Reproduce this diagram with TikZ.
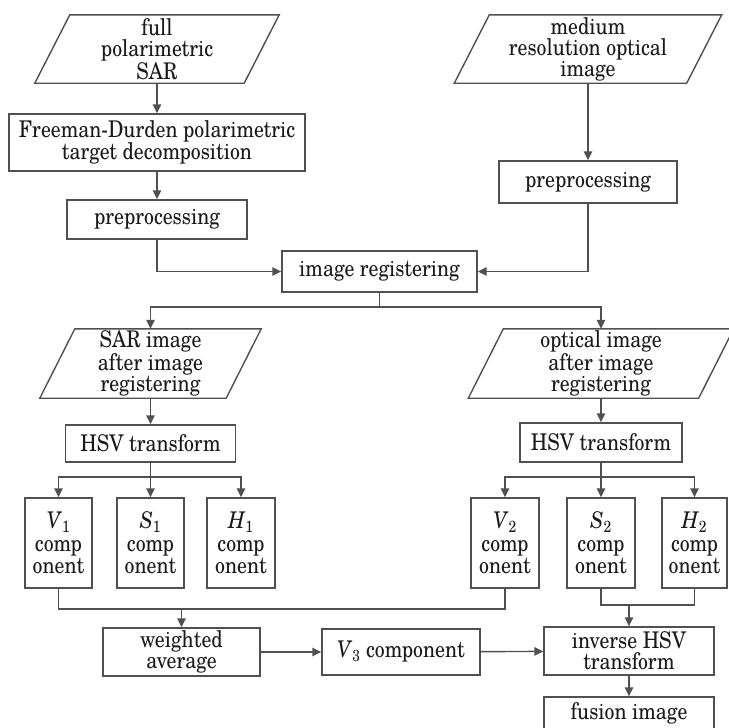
\documentclass[tikz,border=0pt]{standalone}
\usepackage{fontspec}
\setmainfont[FakeStretch=0.86]{TeX Gyre Schola}
\usetikzlibrary{arrows.meta,calc}
\definecolor{lc}{HTML}{505050}
\definecolor{tc}{HTML}{1A1A1A}
\begin{document}
\begin{tikzpicture}[x=1pt,y=-1pt,
  ln/.style={draw=lc, line width=1.4pt},
  box/.style={ln, inner sep=0pt, align=center, text=tc, font=\fontsize{23}{21}\selectfont},
  comp/.style={box, minimum height=90, font=\fontsize{23}{22.5}\selectfont},
  para/.style={inner sep=0pt, align=center, text=tc, font=\fontsize{23}{21}\selectfont},
  arr/.style={ln, -{Triangle[length=9pt,width=8.5pt]}}]
\useasboundingbox (0,0) rectangle (728,728);
% inputs
\node[para, minimum width=209, minimum height=68] (in1) at (157,49) {full\\polarimetric\\SAR};
\node[para, minimum width=232, minimum height=68] (in2) at (588,49) {medium\\resolution optical\\image};
\node[box, minimum width=296, minimum height=57] (fd) at (157,142.5) {Freeman-Durden polarimetric\\target decomposition};
\node[box, minimum width=180, minimum height=39] (pre1) at (157,219.5) {preprocessing};
\node[box, minimum width=178, minimum height=42] (pre2) at (588,182) {preprocessing};
\node[box, minimum width=195, minimum height=41] (reg) at (379.5,271.5) {image registering};
\coordinate (j1) at (379.5,307);
\node[para, minimum width=186, minimum height=69] (sar) at (150.5,363.5) {SAR image\\after image\\registering};
\node[para, minimum width=230, minimum height=69] (opt) at (601,363.5) {optical image\\after image\\registering};
\node[box, minimum width=170, minimum height=37] (hsv1) at (150.5,443.5) {HSV transform};
\node[box, minimum width=162, minimum height=39] (hsv2) at (601,442.5) {HSV transform};
\coordinate (j2) at (150.5,477);
\coordinate (j3) at (601,477);
\node[comp, minimum width=67] (v1) at (58.5,543) {\textit{V}\textsubscript{1}\\comp\\onent};
\node[comp, minimum width=67] (s1) at (150.5,543) {\textit{S}\textsubscript{1}\\comp\\onent};
\node[comp, minimum width=68] (h1) at (241,543) {\textit{H}\textsubscript{1}\\comp\\onent};
\node[comp, minimum width=68] (v2) at (505,543) {\textit{V}\textsubscript{2}\\comp\\onent};
\node[comp, minimum width=68] (s2) at (601,543) {\textit{S}\textsubscript{2}\\comp\\onent};
\node[comp, minimum width=65] (h2) at (694.5,543) {\textit{H}\textsubscript{2}\\comp\\onent};
\coordinate (j4) at (181.5,609);
\coordinate (j5) at (629,605);
\node[box, minimum width=157, minimum height=48] (wavg) at (181.5,652) {weighted\\average};
\node[box, minimum width=158, minimum height=46] (v3) at (401,652) {\textit{V}\textsubscript{3} component};
\node[box, minimum width=170, minimum height=48] (inv) at (629,651) {inverse HSV\\transform};
\node[box, minimum width=170, minimum height=33] (fus) at (629,713.5) {fusion image};
% parallelogram outlines
\foreach \n in {in1,in2,sar,opt}{
  \draw[ln] ($(\n.south west)+(-17.5,0)$) -- ($(\n.south east)+(-17.5,0)$) -- ($(\n.north east)+(17.5,0)$) -- ($(\n.north west)+(17.5,0)$) -- cycle;}
% connectors
\draw[arr] (in1) -- (fd);
\draw[arr] (fd) -- (pre1);
\draw[arr] (pre1.south) |- (reg.west);
\draw[arr] (in2) -- (pre2);
\draw[arr] (pre2.south) |- (reg.east);
\draw[ln] (reg.south) -- (j1);
\draw[arr] (j1) -| (sar.north);
\draw[arr] (j1) -| (opt.north);
\draw[arr] (sar) -- (hsv1);
\draw[arr] (opt) -- (hsv2);
\draw[ln] (hsv1.south) -- (j2);
\draw[arr] (j2) -| (v1.north);
\draw[arr] (j2) -- (s1.north);
\draw[arr] (j2) -| (h1.north);
\draw[ln] (hsv2.south) -- (j3);
\draw[arr] (j3) -| (v2.north);
\draw[arr] (j3) -- (s2.north);
\draw[arr] (j3) -| (h2.north);
\draw[ln] (v1.south) |- (j4) -| (v2.south);
\draw[arr] (j4) -- (wavg.north);
\draw[arr] (wavg) -- (v3);
\draw[arr] (v3) -- (inv);
\draw[ln] (s2.south) |- (j5) -| (h2.south);
\draw[arr] (j5) -- (inv.north);
\draw[arr] (inv) -- (fus);
\end{tikzpicture}
\end{document}
